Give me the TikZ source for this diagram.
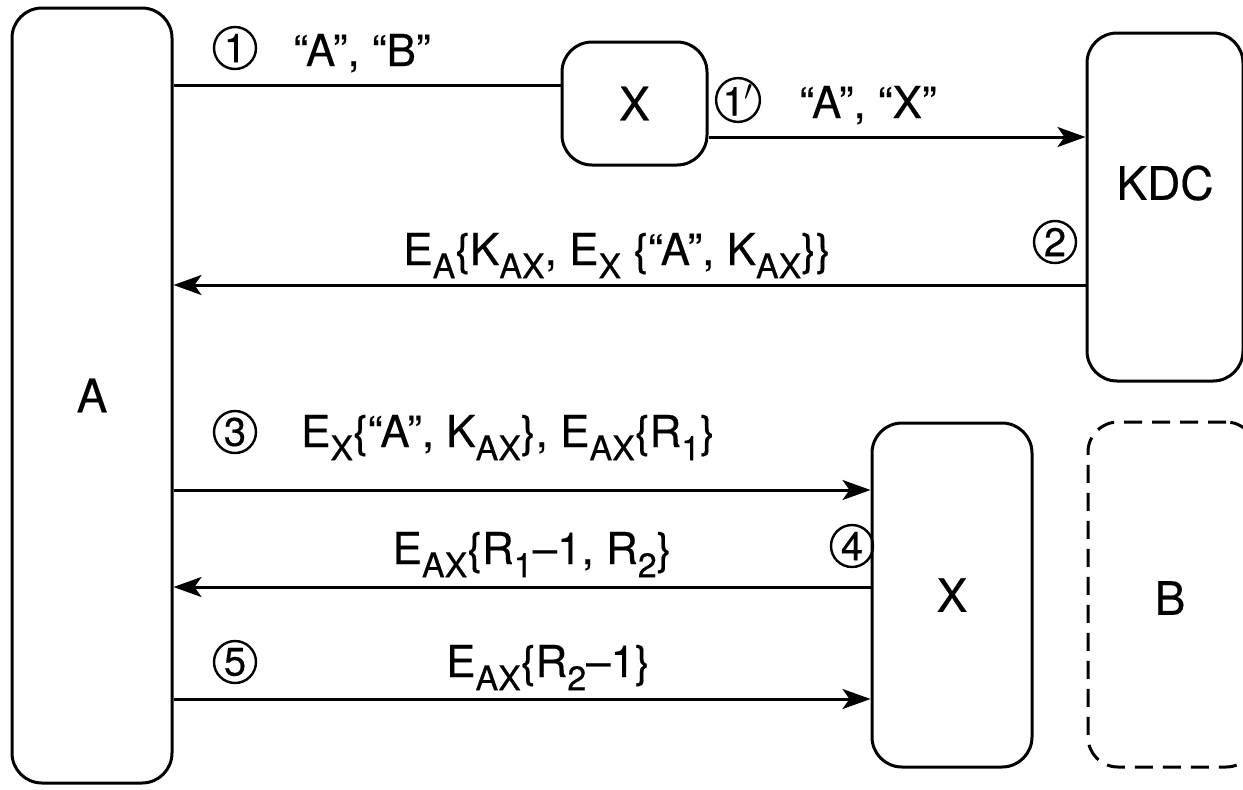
\documentclass[tikz,border=0pt]{standalone}
\usepackage{fontspec}
\setmainfont{TeX Gyre Heros}[BoldFont={TeX Gyre Heros},BoldFeatures={FakeBold=0.35}]
\usetikzlibrary{arrows.meta}
\newcommand\sbx[1]{\raisebox{-0.3em}{\fontsize{17}{18}\selectfont #1}}
\begin{document}
\begin{tikzpicture}[x=0.5pt,y=-0.5pt,
  box/.style={draw, line width=1.5pt, rounded corners=15pt, inner sep=0pt},
  dbox/.style={box, dash pattern=on 9pt off 5pt},
  msg/.style={line width=1.5pt, -{Stealth[length=14pt,width=10pt,inset=3.5pt]}},
  plainline/.style={line width=1.5pt},
  num/.style={draw, circle, line width=1.2pt, minimum size=21pt, inner sep=0pt, font=\fontsize{20}{20}\selectfont\bfseries},
  lbl/.style={anchor=base, font=\fontsize{22}{26}\selectfont\bfseries, inner sep=0pt},
  big/.style={font=\fontsize{23}{27}\selectfont\bfseries}]
\useasboundingbox (0,0) rectangle (1243,789);
% boxes
\node[box, big, minimum width=80pt, minimum height=387.5pt] (A) at (92,395.5) {A};
\node[box, big, minimum width=72.5pt, minimum height=61.5pt] (X1) at (634.5,103.5) {X};
\node[box, minimum width=78pt, minimum height=174pt] (KDC) at (1165,207) {};
\node[big, inner sep=0pt] (kdct) at (1165,183) {KDC};
\node[box, big, minimum width=80pt, minimum height=172pt] (X2) at (952,595) {X};
\node[dbox, minimum width=84pt, minimum height=172.5pt] (B) at (1172,594.5) {};
\node[big, inner sep=0pt] (bt) at (1170,598) {B};
% levels
\coordinate (y1) at (0,85);
\coordinate (y1p) at (0,137);
\coordinate (y2) at (0,285);
\coordinate (y3) at (0,490);
\coordinate (y4) at (0,587);
\coordinate (y5) at (0,699);
% connectors
\draw[plainline] (A.east |- y1) -- (X1.west |- y1);
\draw[msg] (X1.east |- y1p) -- (KDC.west |- y1p);
\draw[msg] (KDC.west |- y2) -- (A.east |- y2);
\draw[msg] (A.east |- y3) -- (X2.west |- y3);
\draw[msg] (X2.west |- y4) -- (A.east |- y4);
\draw[msg] (A.east |- y5) -- (X2.west |- y5);
% step numbers
\node[num] (n1) at (235,48) {1};
\node[num] (n1p) at (738,100) {1$'$};
\node[num] (n2) at (1055,242) {2};
\node[num] (n3) at (235,432) {3};
\node[num] (n4) at (852,546) {4};
\node[num] (n5) at (235,662) {5};
% messages
\node[lbl] (m1) at (362,66) {“A”, “B”};
\node[lbl] (m1p) at (868,118) {“A”, “X”};
\node[lbl] (m2) at (617,265) {E\sbx{A}\{K\sbx{AX}, E\sbx{X} \{“A”, K\sbx{AX}\}\}};
\node[lbl] (m3) at (508,447) {E\sbx{X}\{“A”, K\sbx{AX}\}, E\sbx{AX}\{R\sbx{1}\}};
\node[lbl] (m4) at (532,564) {E\sbx{AX}\{R\sbx{1}–1, R\sbx{2}\}};
\node[lbl] (m5) at (548,677) {E\sbx{AX}\{R\sbx{2}–1\}};
\end{tikzpicture}
\end{document}
